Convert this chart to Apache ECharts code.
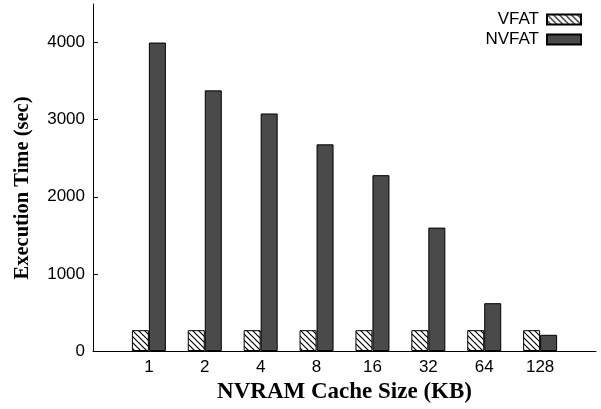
<!DOCTYPE html>
<html>
<head>
<meta charset="utf-8">
<script src="https://cdn.jsdelivr.net/npm/echarts@6/dist/echarts.min.js"></script>
<style>html,body{margin:0;padding:0;background:#fff}#c{width:601px;height:409px}</style>
</head>
<body>
<div id="c"></div>
<script>
var categories = ['1', '2', '4', '8', '16', '32', '64', '128'];
var vfat = [270, 270, 270, 270, 270, 270, 270, 270];
var nvfat = [4000, 3380, 3080, 2680, 2280, 1600, 620, 210];
var yTicks = [0, 1000, 2000, 3000, 4000];

function hatch() {
  var c = document.createElement('canvas');
  c.width = 6; c.height = 6;
  var g = c.getContext('2d');
  g.fillStyle = '#fff'; g.fillRect(0, 0, 6, 6);
  g.strokeStyle = '#000'; g.lineWidth = 1.2;
  g.beginPath();
  g.moveTo(-1, -1); g.lineTo(7, 7);
  g.moveTo(-4, 2); g.lineTo(4, 10);
  g.moveTo(2, -4); g.lineTo(10, 4);
  g.stroke();
  return c;
}
var pad = function (a) { return ['-'].concat(a, ['-']); };
var cats = [''].concat(categories, ['']);

var chart = echarts.init(document.getElementById('c'), null, {renderer: 'canvas'});
var font = 'Liberation Sans, Arial, sans-serif';
var serif = 'Liberation Serif, Times New Roman, serif';
chart.setOption({
  animation: false,
  backgroundColor: '#fff',
  grid: {left: 93, top: 4, right: 5, bottom: 55.5},
  legend: {
    orient: 'vertical', right: 14, top: 6, align: 'right',
    itemWidth: 34, itemHeight: 10, itemGap: 3,
    textStyle: {fontFamily: font, fontSize: 17, color: '#000', padding: [0, 3, 0, 0]},
    data: [
      {name: 'VFAT', icon: 'rect'},
      {name: 'NVFAT', icon: 'rect'}
    ]
  },
  xAxis: {
    type: 'category', data: cats, boundaryGap: false,
    axisLine: {lineStyle: {color: '#000', width: 1}},
    axisTick: {show: false},
    axisLabel: {interval: 0, fontFamily: font, fontSize: 17, color: '#000', margin: 8},
    splitLine: {show: false},
    name: 'NVRAM Cache Size (KB)', nameLocation: 'middle', nameGap: 30,
    nameTextStyle: {fontFamily: serif, fontWeight: 'bold', fontSize: 23, color: '#000'}
  },
  yAxis: {
    type: 'value', min: 0, max: 4500, interval: 1000,
    axisLine: {show: true, lineStyle: {color: '#000', width: 1}},
    axisTick: {show: true, inside: true, length: 5, lineStyle: {color: '#000'}, customValues: yTicks},
    axisLabel: {fontFamily: font, fontSize: 17, color: '#000', margin: 8, customValues: yTicks,
      formatter: function (v) { return String(v); }},
    splitLine: {show: false},
    name: 'Execution Time (sec)', nameLocation: 'middle', nameGap: 60,
    nameTextStyle: {fontFamily: serif, fontWeight: 'bold', fontSize: 20.5, color: '#000', padding: [0, 21, 0, 0]}
  },
  series: [
    {
      name: 'VFAT', type: 'bar', data: pad(vfat), barWidth: 17, barGap: '0%',
      itemStyle: {color: {image: hatch(), repeat: 'repeat'}, borderColor: '#000', borderWidth: 1}
    },
    {
      name: 'NVFAT', type: 'bar', data: pad(nvfat), barWidth: 17, barGap: '0%',
      itemStyle: {color: '#4a4a4a', borderColor: '#000', borderWidth: 1}
    }
  ]
});
</script>
</body>
</html>
